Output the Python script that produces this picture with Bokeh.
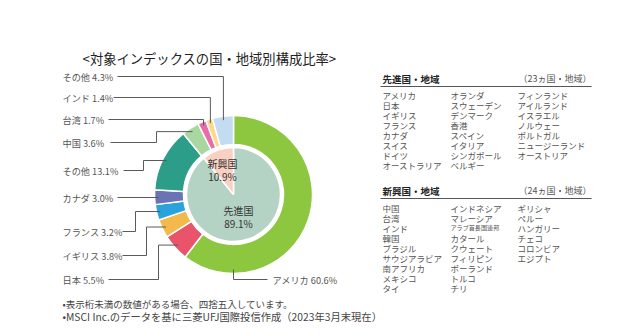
import numpy as np
from bokeh.plotting import figure
from bokeh.models import ColumnDataSource, Range1d
from bokeh.core.properties import value
from bokeh.embed import file_html
from bokeh.resources import INLINE

# ---------------- data ----------------
title_text = "<対象インデックスの国・地域別構成比率>"

inner_names = ["先進国", "新興国"]
inner_values = [89.1, 10.9]
inner_colors = ["#b4d3c4", "#f9d0c1"]

ring_names = ["アメリカ", "日本", "イギリス", "フランス", "カナダ", "その他",
              "中国", "台湾", "インド", "その他"]
ring_values = [60.6, 5.5, 3.8, 3.2, 3.0, 13.1, 3.6, 1.7, 1.4, 4.3]
ring_colors = ["#8dc63f", "#e9546b", "#f3b94a", "#2aa3dc", "#6a74b4", "#2b9d88",
               "#a8d7a0", "#e96ca8", "#fdd88b", "#c3dcf1"]

dev_header = "先進国・地域"
dev_count = "（23ヵ国・地域）"
dev_cols = [
    ["アメリカ", "日本", "イギリス", "フランス", "カナダ", "スイス", "ドイツ", "オーストラリア"],
    ["オランダ", "スウェーデン", "デンマーク", "香港", "スペイン", "イタリア", "シンガポール", "ベルギー"],
    ["フィンランド", "アイルランド", "イスラエル", "ノルウェー", "ポルトガル", "ニュージーランド", "オーストリア"],
]
emg_header = "新興国・地域"
emg_count = "（24ヵ国・地域）"
emg_cols = [
    ["中国", "台湾", "インド", "韓国", "ブラジル", "サウジアラビア", "南アフリカ", "メキシコ", "タイ"],
    ["インドネシア", "マレーシア", "アラブ首長国連邦", "カタール", "クウェート", "フィリピン", "ポーランド", "トルコ", "チリ"],
    ["ギリシャ", "ペルー", "ハンガリー", "チェコ", "コロンビア", "エジプト"],
]
condensed_names = ["アラブ首長国連邦"]
notes = ["•表示桁未満の数値がある場合、四捨五入しています。",
         "•MSCI Inc.のデータを基に三菱UFJ国際投信作成（2023年3月末現在）"]

# ---------------- layout (pixel coords, y from top) ----------------
W, H = 640, 336
FONT = "Noto Sans CJK JP"
CX, CY = 233, 194
R_OUT, R_IN, R_PIE, R_ANCH = 79, 50, 47, 75

def Y(y):
    return H - y

lab_x = [272, 62, 62, 62, 62, 62, 62, 62, 62, 62]
lab_y = [279, 279, 255, 231, 197, 170, 142, 119, 97, 76]
line_start = [267, 108, 122, 122, 117, 123, 110, 108, 113, 117]
elbow_x = [None, 158, 146, 135, None, 143, 156, None, None, None]
kind = ["bottom", "elbow", "elbow", "elbow", "straight", "elbow", "elbow", "down", "down", "down"]
anchor_override = {0: 180.0}

p = figure(width=W, height=H, x_range=Range1d(0, W), y_range=Range1d(0, H),
           output_backend="svg", toolbar_location=None,
           x_axis_type=None, y_axis_type=None, min_border=0)
p.outline_line_color = None
p.xgrid.visible = False
p.ygrid.visible = False
p.background_fill_color = "white"

# ---------------- wedges ----------------
def angles(vals):
    v = np.array(vals, dtype=float)
    frac = v / v.sum()
    cum = np.concatenate([[0.0], np.cumsum(frac)])
    start = np.pi / 2 - 2 * np.pi * cum[:-1]
    end = np.pi / 2 - 2 * np.pi * cum[1:]
    mid_deg = 360 * (cum[:-1] + cum[1:]) / 2
    return start, end, mid_deg

s_in, e_in, _ = angles(inner_values)
src_in = ColumnDataSource(dict(start=s_in, end=e_in, color=inner_colors))
p.wedge(x=CX, y=Y(CY), radius=R_PIE, start_angle="start", end_angle="end",
        direction="clock", fill_color="color", line_color="white", line_width=1.5,
        source=src_in)

s_r, e_r, mid_r = angles(ring_values)
src_r = ColumnDataSource(dict(start=s_r, end=e_r, color=ring_colors))
p.annular_wedge(x=CX, y=Y(CY), inner_radius=R_IN, outer_radius=R_OUT,
                start_angle="start", end_angle="end", direction="clock",
                fill_color="color", line_color="white", line_width=1.5, source=src_r)

p.text(x=[222, 222], y=[Y(163), Y(176)],
       text=[inner_names[1], f"{inner_values[1]:.1f}%"],
       text_font=value(FONT), text_font_size="10px", text_color="#333333",
       text_align="center", text_baseline="middle")
p.text(x=[238, 238], y=[Y(210), Y(223)],
       text=[inner_names[0], f"{inner_values[0]:.1f}%"],
       text_font=value(FONT), text_font_size="10px", text_color="#333333",
       text_align="center", text_baseline="middle")

# ---------------- leader lines & labels ----------------
xs, ys = [], []
for i in range(len(ring_values)):
    deg = anchor_override.get(i, mid_r[i])
    th = np.deg2rad(deg)
    ax = CX + R_ANCH * np.sin(th)
    ay = CY - R_ANCH * np.cos(th)
    ly = lab_y[i]
    if kind[i] == "bottom":
        px = [ax, ax, line_start[i]]
        py = [ay, ly, ly]
    elif kind[i] == "elbow":
        px = [line_start[i], elbow_x[i], elbow_x[i], ax]
        py = [ly, ly, ay, ay]
    elif kind[i] == "straight":
        px = [line_start[i], ax]
        py = [ly, ly]
    else:
        px = [line_start[i], ax, ax]
        py = [ly, ly, ay]
    xs.append(list(px))
    ys.append([Y(v) for v in py])
p.multi_line(xs=xs, ys=ys, line_color="#5a5a5a", line_width=1)

labels = [f"{n} {v:.1f}%" for n, v in zip(ring_names, ring_values)]
p.text(x=lab_x, y=[Y(v) for v in lab_y], text=labels, text_font=value(FONT),
       text_font_size="9.2px", text_color="#555555", text_baseline="middle",
       text_align="left")

# ---------------- title ----------------
p.text(x=[82], y=[Y(58)], text=[title_text], text_font=value(FONT),
       text_font_size="13.3px", text_color="#222222", text_baseline="middle")

# ---------------- right panel ----------------
col_x = [382, 450, 517]
ROW = 10.1

def panel(header, count, cols, head_y, line_y, row0):
    p.text(x=[382], y=[Y(head_y)], text=[header], text_font=value(FONT),
           text_font_size="9.5px", text_font_style="bold", text_color="#222222",
           text_baseline="middle")
    p.text(x=[591], y=[Y(head_y)], text=[count], text_font=value(FONT),
           text_font_size="9px", text_color="#555555", text_baseline="middle",
           text_align="right")
    p.line(x=[380, 591], y=[Y(line_y), Y(line_y)], line_color="#555555", line_width=1)
    for cx_, col in zip(col_x, cols):
        for j, name in enumerate(col):
            size = "6.1px" if name in condensed_names else "8.5px"
            p.text(x=[cx_], y=[Y(row0 + j * ROW)], text=[name], text_font=value(FONT),
                   text_font_size=size, text_color="#555555", text_baseline="middle")

panel(dev_header, dev_count, dev_cols, 78, 86, 94)
panel(emg_header, emg_count, emg_cols, 190, 198, 207)

# ---------------- notes ----------------
p.text(x=[62], y=[Y(303)], text=[notes[0]], text_font=value(FONT),
       text_font_size="9.5px", text_color="#444444", text_baseline="middle")
p.text(x=[62], y=[Y(316)], text=[notes[1]], text_font=value(FONT),
       text_font_size="10.3px", text_color="#444444", text_baseline="middle")

open("out.html", "w").write(file_html(p, INLINE))
